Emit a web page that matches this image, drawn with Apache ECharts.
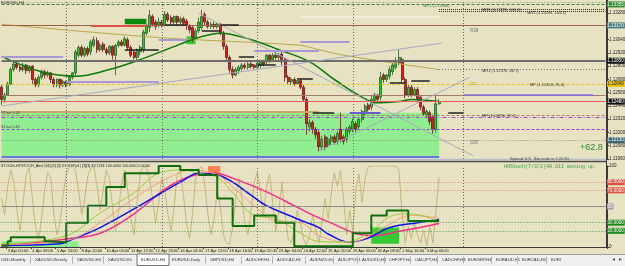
<!DOCTYPE html>
<html>
<head>
<meta charset="utf-8">
<script src="https://cdn.jsdelivr.net/npm/echarts/dist/echarts.min.js"></script>
<style>
html, body { margin: 0; padding: 0; background: #E7E2C2; }
#chart { width: 625px; height: 266px; }
</style>
</head>
<body>
<div id="chart"></div>
<script>
// EURUSD H4 candles [open, close, low, high]
const candles = [
  [1.1261,1.1250,1.1245,1.1263],[1.1250,1.1254,1.1247,1.1256],[1.1254,1.1264,1.1253,1.1266],[1.1264,1.1277,1.1263,1.1279],[1.1277,1.1282,1.1275,1.1284],
  [1.1282,1.1279,1.1277,1.1285],[1.1279,1.1277,1.1275,1.1281],[1.1277,1.1281,1.1275,1.1283],[1.1281,1.1276,1.1273,1.1282],[1.1276,1.1280,1.1274,1.1281],
  [1.1280,1.1268,1.1263,1.1281],[1.1268,1.1263,1.1261,1.1270],[1.1263,1.1270,1.1261,1.1272],[1.1270,1.1275,1.1268,1.1277],[1.1275,1.1272,1.1269,1.1277],
  [1.1272,1.1274,1.1270,1.1276],[1.1274,1.1268,1.1265,1.1275],[1.1268,1.1263,1.1261,1.1270],[1.1263,1.1268,1.1261,1.1269],[1.1268,1.1263,1.1260,1.1269],
  [1.1263,1.1266,1.1261,1.1268],[1.1266,1.1263,1.1261,1.1267],[1.1263,1.1270,1.1262,1.1272],[1.1270,1.1274,1.1268,1.1275],[1.1274,1.1293,1.1272,1.1295],
  [1.1290,1.1297,1.1288,1.1299],[1.1297,1.1290,1.1288,1.1299],[1.1290,1.1296,1.1288,1.1298],[1.1296,1.1291,1.1289,1.1298],[1.1293,1.1302,1.1290,1.1304],
  [1.1299,1.1304,1.1297,1.1307],[1.1303,1.1295,1.1292,1.1306],[1.1295,1.1299,1.1293,1.1301],[1.1300,1.1295,1.1293,1.1302],[1.1295,1.1292,1.1290,1.1297],
  [1.1292,1.1298,1.1290,1.1299],[1.1298,1.1290,1.1286,1.1299],[1.1290,1.1299,1.1272,1.1300],[1.1299,1.1302,1.1297,1.1304],[1.1302,1.1299,1.1298,1.1304],
  [1.1299,1.1305,1.1298,1.1307],[1.1304,1.1297,1.1294,1.1306],[1.1297,1.1290,1.1288,1.1299],[1.1293,1.1288,1.1286,1.1295],[1.1288,1.1295,1.1285,1.1296],
  [1.1293,1.1297,1.1290,1.1299],[1.1295,1.1311,1.1292,1.1313],[1.1310,1.1317,1.1308,1.1318],[1.1315,1.1326,1.1311,1.1331],[1.1325,1.1318,1.1316,1.1327],
  [1.1320,1.1316,1.1313,1.1322],[1.1317,1.1320,1.1315,1.1324],[1.1320,1.1317,1.1315,1.1322],[1.1317,1.1327,1.1316,1.1330],[1.1327,1.1322,1.1320,1.1329],
  [1.1324,1.1320,1.1318,1.1326],[1.1320,1.1325,1.1317,1.1326],[1.1325,1.1320,1.1317,1.1326],[1.1320,1.1323,1.1318,1.1325],[1.1323,1.1319,1.1317,1.1325],
  [1.1321,1.1317,1.1313,1.1323],[1.1317,1.1313,1.1310,1.1318],[1.1315,1.1306,1.1302,1.1317],[1.1306,1.1312,1.1304,1.1314],[1.1312,1.1320,1.1310,1.1324],
  [1.1315,1.1325,1.1313,1.1331],[1.1327,1.1320,1.1317,1.1329],[1.1320,1.1316,1.1314,1.1322],[1.1316,1.1318,1.1314,1.1320],[1.1318,1.1316,1.1314,1.1320],
  [1.1316,1.1318,1.1314,1.1320],[1.1318,1.1310,1.1308,1.1319],[1.1310,1.1298,1.1295,1.1312],[1.1298,1.1288,1.1284,1.1300],[1.1288,1.1277,1.1274,1.1290],
  [1.1277,1.1272,1.1269,1.1280],[1.1272,1.1277,1.1271,1.1279],[1.1276,1.1279,1.1273,1.1281],[1.1278,1.1281,1.1276,1.1283],[1.1281,1.1279,1.1277,1.1283],
  [1.1279,1.1282,1.1277,1.1284],[1.1282,1.1280,1.1278,1.1284],[1.1281,1.1279,1.1277,1.1282],[1.1279,1.1283,1.1277,1.1285],[1.1281,1.1284,1.1278,1.1286],
  [1.1284,1.1282,1.1280,1.1286],[1.1284,1.1290,1.1282,1.1291],[1.1290,1.1286,1.1283,1.1291],[1.1286,1.1290,1.1284,1.1292],[1.1290,1.1288,1.1286,1.1293],
  [1.1288,1.1290,1.1285,1.1292],[1.1291,1.1284,1.1281,1.1293],[1.1286,1.1270,1.1266,1.1288],[1.1270,1.1266,1.1263,1.1272],[1.1266,1.1268,1.1263,1.1270],
  [1.1268,1.1264,1.1262,1.1270],[1.1264,1.1267,1.1263,1.1269],[1.1267,1.1261,1.1259,1.1269],[1.1261,1.1250,1.1248,1.1263],[1.1250,1.1228,1.1218,1.1252],
  [1.1225,1.1229,1.1221,1.1232],[1.1229,1.1223,1.1219,1.1231],[1.1223,1.1218,1.1214,1.1225],[1.1220,1.1207,1.1203,1.1222],[1.1207,1.1214,1.1204,1.1217],
  [1.1216,1.1207,1.1204,1.1218],[1.1209,1.1214,1.1206,1.1216],[1.1212,1.1216,1.1209,1.1218],[1.1216,1.1211,1.1209,1.1218],[1.1212,1.1219,1.1209,1.1221],
  [1.1223,1.1214,1.1211,1.1238],[1.1216,1.1212,1.1209,1.1218],[1.1214,1.1223,1.1211,1.1225],[1.1221,1.1225,1.1218,1.1227],[1.1223,1.1230,1.1220,1.1233],
  [1.1228,1.1223,1.1220,1.1230],[1.1225,1.1232,1.1222,1.1234],[1.1232,1.1239,1.1229,1.1241],[1.1237,1.1244,1.1235,1.1246],[1.1245,1.1241,1.1239,1.1247],
  [1.1243,1.1250,1.1240,1.1253],[1.1249,1.1254,1.1246,1.1256],[1.1254,1.1250,1.1247,1.1255],[1.1252,1.1270,1.1249,1.1275],[1.1272,1.1268,1.1265,1.1274],
  [1.1268,1.1272,1.1266,1.1273],[1.1271,1.1277,1.1268,1.1280],[1.1275,1.1281,1.1272,1.1283],[1.1279,1.1285,1.1277,1.1288],[1.1283,1.1288,1.1281,1.1295],
  [1.1286,1.1268,1.1265,1.1288],[1.1268,1.1254,1.1251,1.1270],[1.1254,1.1261,1.1252,1.1264],[1.1261,1.1254,1.1252,1.1263],[1.1254,1.1259,1.1253,1.1261],
  [1.1259,1.1250,1.1247,1.1261],[1.1252,1.1243,1.1240,1.1254],[1.1243,1.1237,1.1235,1.1245],[1.1236,1.1239,1.1233,1.1241],[1.1238,1.1230,1.1227,1.1240],
  [1.1234,1.1223,1.1219,1.1236],[1.1223,1.1246,1.1220,1.1254],[1.1246,1.1248,1.1245,1.1250]
];

const totalBars = 197;
const labelBars = [2, 10, 18, 26, 34, 42, 50, 58, 66, 74, 82, 90, 98, 106, 114, 122, 130, 138];
const timeLabels = ['3 Apr 00:00', '4 Apr 08:00', '5 Apr 16:00', '8 Apr 20:00', '10 Apr 04:00', '11 Apr 12:00',
  '12 Apr 20:00', '16 Apr 04:00', '17 Apr 12:00', '18 Apr 16:00', '19 Apr 20:45', '23 Apr 04:00',
  '24 Apr 12:00', '25 Apr 20:00', '29 Apr 00:00', '30 Apr 08:00', '1 May 16:00', '3 May 00:00'];
const weekSeparators = [21, 52, 83, 114, 150];

// moving averages on the price panel [bar, price]
const maFast = [[0,1.1289],[13,1.1275],[24,1.1271],[35,1.1277],[45,1.1286],[58,1.1300],[64,1.1306],[71,1.1310],
  [81,1.1304],[90,1.1295],[100,1.1284],[108,1.1268],[119,1.1249],[123,1.1247],[129,1.1248],[133,1.1250],[142,1.1248]];
const maSlow = [[0,1.1318],[51,1.1306],[97,1.1299],[103,1.1295],[113,1.1289],[142,1.1277]];

// levels
const pLevelTop = 1.1336, pR1 = 1.1317, pGray = 1.1285, pPivot = 1.1264, pBrown = 1.1254, pRed = 1.1248;
const pBrownDash = 1.1236, pPurpleDashDot = 1.1234, pPurpleDash = 1.1223, pS1 = 1.1213;
const zoneTop = 1.1238, zoneBottom = 1.1199;

// stochastic panel
const stochFast = [60,40,75,95,80, 45,20,55,90,98, 60,25,10,35,70, 92,85,40,15,30, 65,90,98,100,95,
  70,40,60,88,97, 99,75,45,70,95, 85,50,20,45,80, 95,70,35,15,55, 90,100,98,85,60, 30,55,85,70,40,
  20,50,88,95,65, 30,10,40,85,97, 99,75,40,15,35, 70,50,15,5,3, 25,60,85,60,30, 15,45,80,92,70,
  40,75,90,55,20, 45,80,40,10,5, 20,45,30,10,2, 15,40,20,5,30, 60,35,65,92,75, 95,60,15,45,20,
  70,90,55,85,99, 100,100,100,100,100, 100,100,100,100,95, 40,5,25,10,30, 15,5,20,2,25, 5,45,86];
const stochHtf = [[0,2],[2,7],[3,12],[14,7],[15,6],[21,30],[28,51],[34,74],[40,91],[51,100],[58,95],[64,89],
  [70,60],[75,26],[82,39],[89,30],[95,1],[114,17],[120,39],[125,45],[132,32],[142,32]];
const stochBlue = [[0,2],[19,4],[22,8],[32,24],[43,47],[52,67],[58,80],[64,91],[70,89],[75,80],[81,64],[86,51],
  [94,38],[97,33],[103,24],[106,16],[113,6],[119,11],[126,24],[135,30],[142,34]];
const stochPink = [[0,1],[21,10],[32,17],[43,41],[54,74],[62,88],[69,91],[75,85],[86,68],[97,47],[103,36],
  [108,28],[114,18],[120,14],[130,20],[142,29]];
const stochLime = [[0,4],[21,14],[32,42],[43,67],[51,91],[59,95],[64,91],[70,86],[75,67],[82,39],[89,35],
  [97,17],[103,7],[111,6],[119,17],[127,39],[132,41],[142,32]];
const stochSalmon = [[0,3],[21,8],[32,30],[43,60],[54,85],[62,95],[70,89],[75,74],[82,51],[89,32],[97,30],
  [103,14],[113,6],[124,24],[133,39],[142,36]];
const stochLevels = [80, 70, 50, 30, 20];

const tabs = ['USD,Monthly', 'XAUUSD,Weekly', 'XAUUSD,H4', 'XAUUSD,H1', 'EURUSD,H4', 'EURUSD,Daily', 'GBPUSD,H4',
  'AUDCHF,H4', 'AUDCAD,H1', 'AUDNZD,H4', 'AUDJPY,H1', 'AUDUSD,H4', 'CHFJPY,H4', 'CADJPY,H4', 'CADCHF,H4',
  'EURGBP,H4', 'EURAUD,H1', 'EURCAD,H1', 'EURI'];
const tabX = [1, 35, 77, 108, 141, 172, 210, 246, 277, 310, 338, 362, 389, 415, 442, 468, 496, 522, 551];

const FONT = 'Liberation Sans';
const LAST = totalBars - 1;
const cats = [];
for (let i = 0; i < totalBars; i++) cats.push('#' + i);
labelBars.forEach((b, k) => { cats[b] = timeLabels[k]; });

function tagLabel(tag, bg, fg) {
  return {show: true, position: 'end', formatter: tag, backgroundColor: bg, color: fg || '#fff',
    fontSize: 4.5, fontFamily: FONT, padding: [1, 1, 0, 1], distance: 1};
}
function seg(a, b, pa, pb, color, width, type, label) {
  const st = {color: color, width: width, type: type || 'solid'};
  const lb = label || {show: false};
  return [{coord: [a, pa], lineStyle: st, label: lb}, {coord: [b, pb], lineStyle: st, label: lb}];
}
function hLine(price, color, width, type, tag, bg, fg) {
  return seg(0, LAST, price, price, color, width, type, tag ? tagLabel(tag, bg, fg) : null);
}
function vLine(i) {
  return {xAxis: i, lineStyle: {color: '#6A6A6A', width: 1, type: [1, 2]}, label: {show: false}};
}

const priceMarks = [
  hLine(pLevelTop, '#2E8B2E', 1, [3, 2], '1.13355', '#2E8B2E'),
  hLine(pR1, '#A0604A', 1.2, 'solid', '1.13170', '#4C8080'),
  hLine(pGray, '#6E6E6E', 2, 'solid', '1.12850', '#111'),
  hLine(pPivot, '#E8C020', 1, [3, 2], '1.12640', '#E8C000', '#222'),
  hLine(pBrown, '#A07A6A', 1, 'solid'),
  hLine(pRed, '#F05A5A', 1, 'solid', '1.12480', '#111'),
  hLine(pBrownDash, '#B08060', 1, [3, 2]),
  hLine(pPurpleDashDot, '#A040E0', 1, [4, 2, 1, 2]),
  hLine(pPurpleDash, '#9A40E0', 1, [3, 2]),
  hLine(pS1, '#7A8A6A', 1, [1, 2], '1.12130', '#3A6A7A'),
  seg(0, LAST, 1.1338, 1.1338, '#8A8A7A', 1, [1, 2]),
  seg(0, 103, 1.1239, 1.1239, '#C8A868', 2),
  seg(0, 142, 1.1198, 1.1198, '#3355DD', 1.5),
  seg(29, 47, pR1, pR1, '#E05040', 2),
  seg(97, 142, 1.1325, 1.1325, '#F6F1DC', 1.5),
  seg(142, LAST, 1.1332, 1.1332, '#333', 1, [1, 1]),
  seg(142, LAST, 1.1330, 1.1330, '#333', 1, [1, 1]),
  seg(142, LAST, 1.1277, 1.1277, '#6A6A6A', 1, [1, 2]),
  // trend lines
  seg(0, 143, 1.1244, 1.1301, '#A8A8C0', 1),
  seg(64, 153, 1.1328, 1.1199, '#A8A8C0', 1),
  seg(103, 152, 1.1203, 1.1270, '#A8A8C0', 1),
  // lavender levels
  seg(0, 20, 1.1289, 1.1289, '#A898D8', 2),
  seg(21, 51, 1.1266, 1.1266, '#A898D8', 2),
  seg(51, 60, 1.1304, 1.1304, '#A898D8', 2),
  seg(82, 103, 1.1294, 1.1294, '#A898D8', 2),
  seg(97, 113, 1.1302, 1.1302, '#A898D8', 2),
  seg(150, 192, 1.1254, 1.1254, '#8A6AE0', 1.5),
  seg(113, 123, 1.1238, 1.1238, '#6A5ACD', 2),
  // black short levels
  seg(40, 51, 1.1295, 1.1295, '#222', 1.5),
  seg(53, 60, 1.1318, 1.1318, '#222', 1.5),
  seg(65, 71, 1.1312, 1.1312, '#222', 1.5),
  seg(71, 77, 1.1318, 1.1318, '#222', 1.5),
  seg(77, 82, 1.1289, 1.1289, '#222', 1.5),
  seg(83, 89, 1.1281, 1.1281, '#222', 1.5),
  seg(96, 101, 1.1269, 1.1269, '#222', 1.5),
  seg(101, 108, 1.1238, 1.1238, '#222', 1.5),
  seg(126, 131, 1.1265, 1.1265, '#222', 1.5),
  seg(133, 139, 1.1267, 1.1267, '#222', 1.5),
  seg(145, 150, 1.1238, 1.1238, '#222', 1.5)
].concat(weekSeparators.map(vLine));

const stochTagBg = ['#E05040', '#E05040', '#A0A0A0', '#1A8A1A', '#1A8A1A'];
const stochLineColor = ['#E07A6A', '#E07A6A', '#8A8A8A', '#4A9A4A', '#4A9A4A'];
const stochMarks = stochLevels.map((v, k) =>
  seg(0, LAST, v, v, stochLineColor[k], 1, v === 50 ? 'solid' : [1, 2],
    tagLabel(v === 50 ? '50' : v.toFixed(4), stochTagBg[k]))
).concat(weekSeparators.map(vLine));

function txt(x, y, text, size, color, extra) {
  return Object.assign({type: 'text', x: x, y: y, silent: true, z: 50,
    style: {text: text, fontSize: size, fontFamily: FONT, fill: color, textVerticalAlign: 'top'}}, extra || {});
}

const graphics = [
  {type: 'line', shape: {x1: 0, y1: 161.5, x2: 607, y2: 161.5}, style: {stroke: '#4A4A4A', lineWidth: 1.5}, z: 40},
  {type: 'line', shape: {x1: 0, y1: 159.5, x2: 607, y2: 159.5}, style: {stroke: '#B8BCC8', lineWidth: 1.5}, z: 40},
  {type: 'line', shape: {x1: 606.5, y1: 0, x2: 606.5, y2: 248}, style: {stroke: '#3A3A3A', lineWidth: 1}, z: 40},
  {type: 'rect', shape: {x: 0, y: 254, width: 625, height: 12}, style: {fill: '#F0F0F0'}, z: 40},
  {type: 'line', shape: {x1: 0, y1: 254.5, x2: 625, y2: 254.5}, style: {stroke: '#A0A0A0', lineWidth: 1}, z: 41},
  {type: 'rect', shape: {x: 137, y: 254, width: 32, height: 11.5}, style: {fill: '#FFFFFF', stroke: '#707070', lineWidth: 1}, z: 41},
  txt(1, 1, 'EURUSD,H4', 4, '#333'),
  txt(423, 4, 'MR1 (1.13380)', 4, '#3A7A3A'),
  txt(482, 8, 'MR8 (1.13295, 100.1)', 4, '#333'),
  txt(527, 10.5, 'MR1 (1.13290, 103.3)', 4, '#333'),
  txt(470, 28, 'R38', 4.5, '#7A7A7A'),
  txt(482, 68.5, 'MR1 (1.12370, 46.7)', 4, '#333'),
  txt(470, 82, 'PP', 5, '#D0B040'),
  txt(530, 83, 'MP (1.12403, 25.6)', 4, '#333'),
  txt(482, 114, 'MP (1.12256, 37.1)', 4, '#333'),
  txt(470, 140, 'S38', 4.5, '#7A7A7A'),
  txt(580, 143, '+62.8', 9, '#2A8A2A'),
  txt(1, 110.5, 'R1 bar 0.43', 3.6, '#444'),
  txt(1, 124.5, 'S1 bar 0.43', 3.6, '#444'),
  txt(1, 164, 'STOCH+HTSTOCH_Alert [34] [3] [3] D3 HTF(x1) [3][3] 33.7234 100.0000 100.0000 0.0000', 3.7, '#222'),
  txt(510, 157, 'Spread: 0.6   Bar ends in 2:20:30', 4, '#444'),
  {type: 'text', x: 504, y: 164, silent: true, z: 50,
    style: {text: 'HHStoch(7/3/2)40.011 moving up', fontSize: 5, fontFamily: 'Liberation Mono', fill: '#3A9A3A', textVerticalAlign: 'top'}},
  txt(612, 256, '\u25C2', 6, '#555'),
  txt(619, 256, '\u25B8', 6, '#555')
];
tabs.forEach((t, k) => {
  graphics.push(txt(tabX[k], 257.5, t, 4.2, '#333', {z: 42}));
  if (k > 0 && k !== 4 && k !== 5) {
    graphics.push({type: 'line', shape: {x1: tabX[k] - 4.5, y1: 256.5, x2: tabX[k] - 4.5, y2: 263.5},
      style: {stroke: '#B0B0B0', lineWidth: 1}, z: 42});
  }
});

const isLabelBar = (idx) => labelBars.indexOf(idx) >= 0;
const chart = echarts.init(document.getElementById('chart'), null, {renderer: 'canvas'});
chart.setOption({
  animation: false,
  backgroundColor: '#E7E2C2',
  textStyle: {fontFamily: FONT},
  grid: [
    {left: 0, right: 18, top: 0, height: 159, containLabel: false, outerBoundsMode: 'none'},
    {left: 0, right: 18, top: 166, height: 81, containLabel: false, outerBoundsMode: 'none'}
  ],
  xAxis: [
    {type: 'category', gridIndex: 0, data: cats, boundaryGap: true,
      axisLine: {show: false}, axisTick: {show: false}, axisLabel: {show: false}, splitLine: {show: false}},
    {type: 'category', gridIndex: 1, data: cats, boundaryGap: true,
      axisLine: {show: true, lineStyle: {color: '#3A3A3A', width: 1}},
      axisTick: {show: true, interval: (i) => isLabelBar(i), length: 2, lineStyle: {color: '#3A3A3A'}},
      axisLabel: {show: true, interval: (i) => isLabelBar(i), fontSize: 4, color: '#222', align: 'left',
        margin: 2, hideOverlap: false, fontFamily: FONT},
      splitLine: {show: false}}
  ],
  yAxis: [
    {type: 'value', gridIndex: 0, position: 'right', min: 1.1196, max: 1.1340, interval: 0.0012,
      axisLine: {show: true, lineStyle: {color: '#3A3A3A'}},
      axisTick: {show: true, length: 2, lineStyle: {color: '#3A3A3A'}},
      axisLabel: {fontSize: 4.5, color: '#222', margin: 2, showMaxLabel: false, formatter: (v) => v.toFixed(5), fontFamily: FONT},
      splitLine: {show: false}},
    {type: 'value', gridIndex: 1, position: 'right', min: 0, max: 100, interval: 50,
      axisLine: {show: true, lineStyle: {color: '#3A3A3A'}},
      axisTick: {show: true, length: 2, lineStyle: {color: '#3A3A3A'}},
      axisLabel: {fontSize: 4.5, color: '#222', margin: 2, formatter: (v) => (v === 50 ? '' : String(v)), fontFamily: FONT},
      splitLine: {show: false}}
  ],
  graphic: graphics,
  series: [
    {
      type: 'candlestick', xAxisIndex: 0, yAxisIndex: 0, data: candles, barWidth: 2.5,
      itemStyle: {color: '#1ED21E', color0: '#E81818', borderColor: '#2B5B2B', borderColor0: '#6A1A1A', borderWidth: 0.8},
      markArea: {
        silent: true,
        data: [
          [{coord: [0, zoneTop], itemStyle: {color: '#90EE90'}}, {coord: [142, zoneBottom]}],
          [{coord: [40, 1.1323], itemStyle: {color: '#0A8A0A'}}, {coord: [47, 1.1318]}],
          [{coord: [60, 1.1307], itemStyle: {color: '#33CC33'}}, {coord: [63, 1.1300]}]
        ]
      },
      markLine: {silent: true, symbol: ['none', 'none'], animation: false, label: {show: false}, data: priceMarks}
    },
    {type: 'line', xAxisIndex: 0, yAxisIndex: 0, data: maSlow, smooth: 0.3, showSymbol: false,
      lineStyle: {color: '#B8A848', width: 1}, z: 3},
    {type: 'line', xAxisIndex: 0, yAxisIndex: 0, data: maFast, smooth: 0.4, showSymbol: false,
      lineStyle: {color: '#0A7A0A', width: 1.5}, z: 4},
    {
      type: 'line', xAxisIndex: 1, yAxisIndex: 1, data: stochFast, showSymbol: false,
      lineStyle: {color: '#C4B77A', width: 1},
      markArea: {
        silent: true,
        data: [
          [{coord: [0, 7], itemStyle: {color: '#90EE90'}}, {coord: [25, 0]}],
          [{coord: [120, 24], itemStyle: {color: '#33CC33'}}, {coord: [129, 4]}],
          [{coord: [67, 100], itemStyle: {color: '#FF7F50'}}, {coord: [71, 91]}]
        ]
      },
      markLine: {silent: true, symbol: ['none', 'none'], animation: false, data: stochMarks}
    },
    {type: 'line', xAxisIndex: 1, yAxisIndex: 1, data: stochPink, smooth: 0.4, showSymbol: false,
      lineStyle: {color: '#FF2A8A', width: 1.5}},
    {type: 'line', xAxisIndex: 1, yAxisIndex: 1, data: stochBlue, smooth: 0.4, showSymbol: false,
      lineStyle: {color: '#1010F0', width: 1.5}},
    {type: 'line', xAxisIndex: 1, yAxisIndex: 1, data: stochSalmon, smooth: 0.4, showSymbol: false,
      lineStyle: {color: '#F4A07A', width: 1}},
    {type: 'line', xAxisIndex: 1, yAxisIndex: 1, data: stochLime, smooth: 0.4, showSymbol: false,
      lineStyle: {color: '#9ACD32', width: 1}},
    {type: 'line', xAxisIndex: 1, yAxisIndex: 1, data: stochHtf, step: 'end', showSymbol: false,
      lineStyle: {color: '#0E6E0E', width: 2}}
  ]
});
</script>
</body>
</html>
